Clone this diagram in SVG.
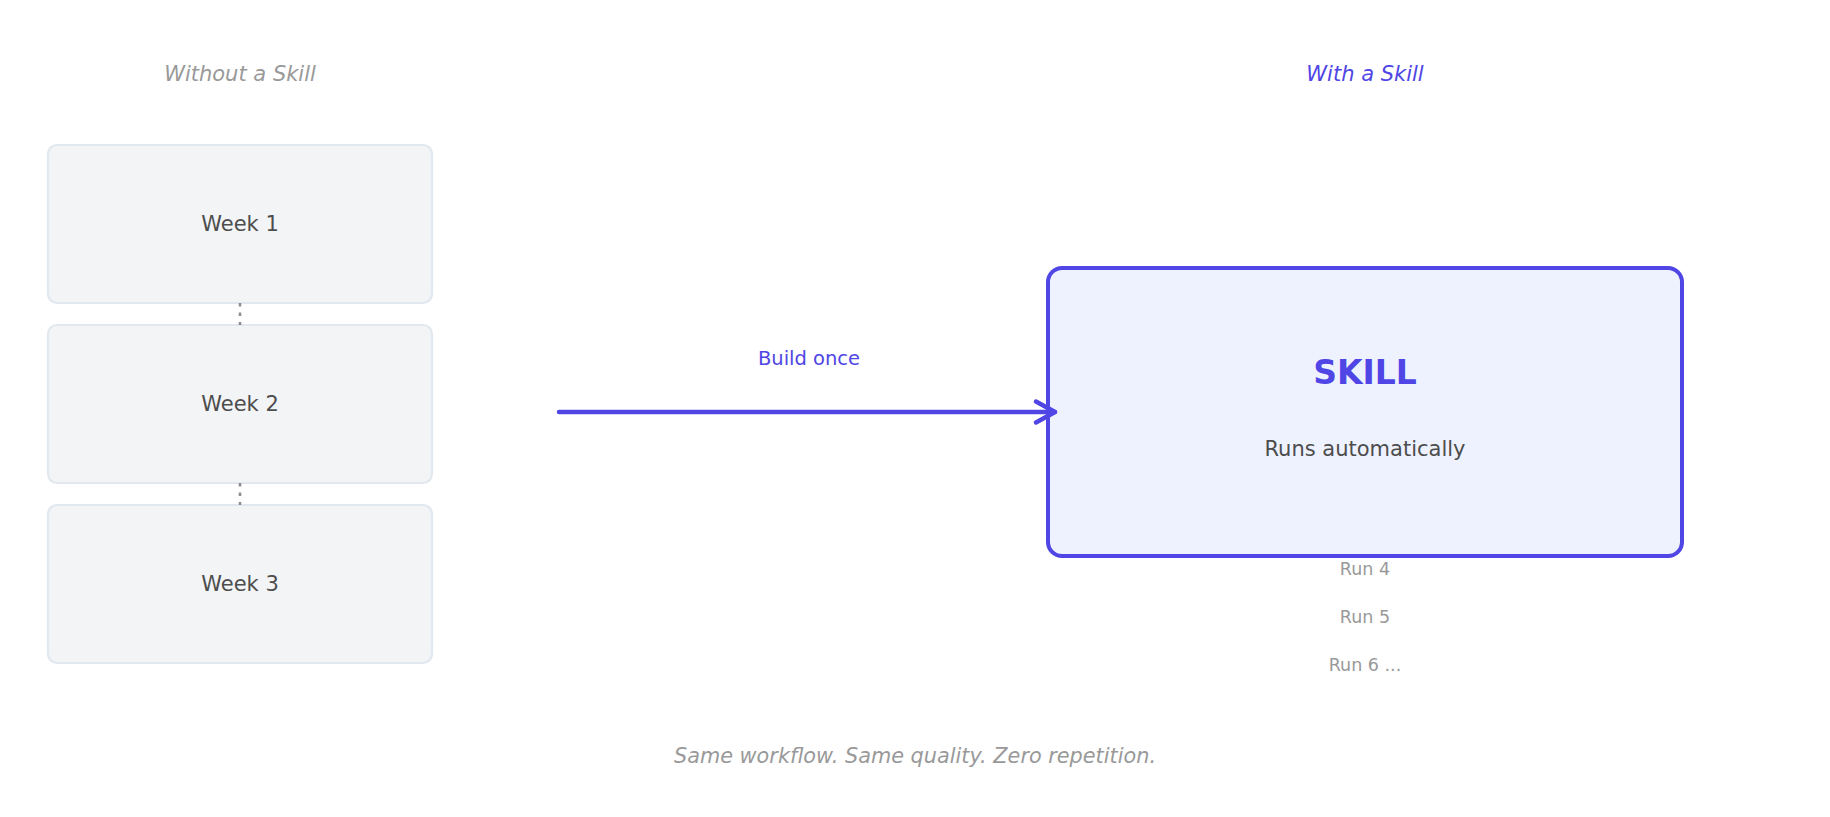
<svg xmlns="http://www.w3.org/2000/svg" width="1830" height="817" viewBox="0 0 1830 817">
<style>
text{font-family:"DejaVu Sans",Verdana,sans-serif;text-anchor:middle}
.hdr{font-size:21px;font-style:italic}
.muted{fill:#999999}
.week rect{fill:#f3f4f6;stroke:#e2e8f0;stroke-width:2.2}
.week text{font-size:21px;fill:#4d4d4d}
.dots{stroke:#8c8c8c;stroke-width:2.5;stroke-dasharray:3.5 6;fill:none}
.run{font-size:17.5px;fill:#999999}
</style>
<defs>
<marker id="chev" viewBox="0 0 30 30" refX="25" refY="15" markerWidth="30" markerHeight="30" markerUnits="userSpaceOnUse" orient="auto">
<path d="M6,4.5 L25,15 L6,25.5" fill="none" stroke="#4f46e5" stroke-width="4.5" stroke-linecap="round" stroke-linejoin="round"/>
</marker>
</defs>
<rect width="1830" height="817" fill="#ffffff"/>
<text class="hdr muted" x="240" y="81">Without a Skill</text>
<text class="hdr" x="1365" y="81" fill="#4f46e5">With a Skill</text>
<g id="week1" class="week"><rect x="48" y="145" width="384" height="158" rx="9"/><text x="240" y="231">Week 1</text></g>
<g id="week2" class="week"><rect x="48" y="325" width="384" height="158" rx="9"/><text x="240" y="411">Week 2</text></g>
<g id="week3" class="week"><rect x="48" y="505" width="384" height="158" rx="9"/><text x="240" y="591">Week 3</text></g>
<g id="skill">
<rect x="1048" y="268" width="634" height="288" rx="14" fill="#eef2ff" stroke="#4f46e5" stroke-width="4"/>
<text x="1365" y="384" font-size="33" font-weight="bold" fill="#4f46e5">SKILL</text>
<text x="1365" y="456" font-size="21" fill="#4d4d4d">Runs automatically</text>
</g>
<g id="runs">
<text class="run" x="1365" y="575">Run 4</text>
<text class="run" x="1365" y="623">Run 5</text>
<text class="run" x="1365" y="671">Run 6 ...</text>
</g>
<g id="connectors">
<line class="dots" x1="240" y1="303" x2="240" y2="325"/>
<line class="dots" x1="240" y1="483" x2="240" y2="505"/>
<line x1="559" y1="412" x2="1055" y2="412" stroke="#4f46e5" stroke-width="4.5" stroke-linecap="round" marker-end="url(#chev)"/>
<text x="809" y="365" font-size="19.5" fill="#4f46e5">Build once</text>
</g>
<text class="muted" x="915" y="763" font-size="20.8" font-style="italic">Same workflow. Same quality. Zero repetition.</text>
</svg>
